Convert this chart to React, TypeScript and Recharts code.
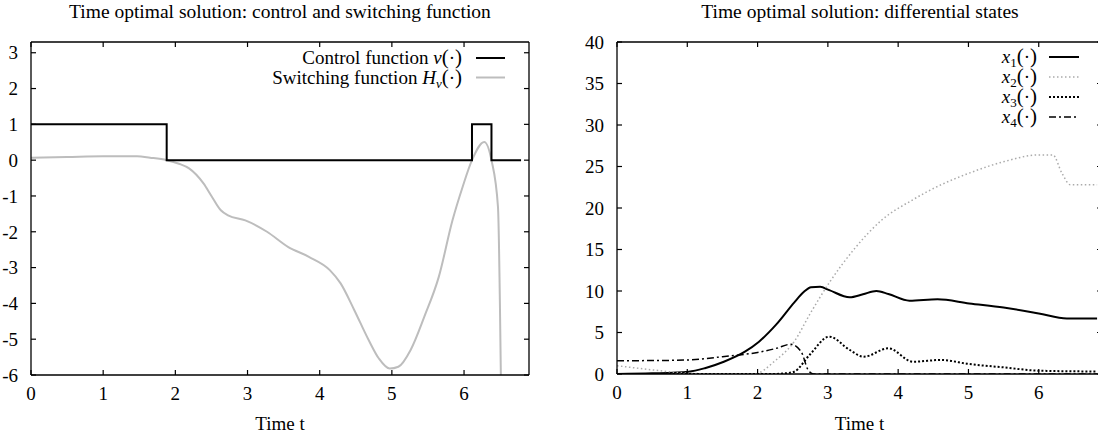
import React from "react";
import { LineChart, Line, XAxis, YAxis, Legend } from "recharts";

const FONT = '"Liberation Serif", "DejaVu Serif", serif';

// left panel: control v(t), switching function H_v(t)
const vTime = [0, 1.88, 6.11, 6.38, 6.79];
const vValue = [1, 0, 1, 0, 0];

const hTime = [
  0, 0.5, 1.0, 1.47, 1.65, 1.88, 2.05, 2.19, 2.39, 2.5, 2.63, 2.73, 2.97, 3.27,
  3.56, 3.85, 4.14, 4.29, 4.48, 4.68, 4.82, 4.97, 5.09, 5.26, 5.45, 5.65, 5.84,
  5.98, 6.11, 6.28, 6.38, 6.47, 6.51,
];
const hValue = [
  0.07, 0.09, 0.11, 0.11, 0.07, 0, -0.1, -0.23, -0.65, -1.0, -1.4, -1.54, -1.68,
  -2.0, -2.42, -2.7, -3.07, -3.44, -4.19, -5.03, -5.54, -5.82, -5.77, -5.3,
  -4.37, -3.26, -1.68, -0.75, 0, 0.51, 0, -1.3, -6.0,
];

// right panel: differential states x1..x4
const x1Time = [
  0, 0.5, 1.02, 1.25, 1.52, 1.82, 2.02, 2.27, 2.52, 2.66, 2.76, 2.89, 3.02,
  3.31, 3.5, 3.69, 3.86, 4.16, 4.56, 5.01, 5.5, 6.0, 6.4, 6.83,
];
const x1Value = [
  0, 0.08, 0.28, 0.7, 1.48, 2.69, 3.89, 6.0, 8.6, 9.9, 10.45, 10.5, 10.1, 9.24,
  9.6, 10.0, 9.64, 8.83, 9.0, 8.5, 8.0, 7.3, 6.7, 6.7,
];

const x2Time = [
  0, 0.5, 1.0, 1.5, 1.95, 2.25, 2.52, 2.75, 3.02, 3.37, 3.76, 4.21, 4.61, 5.01,
  5.51, 6.01, 6.2, 6.33, 6.45, 6.83,
];
const x2Value = [
  1.0, 0.5, 0.1, 0, 0, 1.6, 3.9, 7.3, 11.0, 15.0, 18.5, 21.0, 22.8, 24.2, 25.6,
  26.4, 26.4, 24.2, 22.8, 22.8,
];

const x3Time = [
  0, 2.2, 2.35, 2.52, 2.74, 3.02, 3.31, 3.51, 3.86, 4.21, 4.61, 5.01, 5.5, 6.0,
  6.83,
];
const x3Value = [
  0, 0, 0.05, 0.28, 2.3, 4.5, 2.9, 2.08, 3.1, 1.48, 1.69, 1.2, 0.8, 0.4, 0.3,
];

const x4Time = [0, 0.5, 1.0, 1.5, 2.0, 2.27, 2.47, 2.62, 2.72, 2.8, 6.83];
const x4Value = [1.6, 1.62, 1.69, 2.08, 2.6, 3.1, 3.58, 2.69, 0.48, 0, 0];

const timeTicks = [0, 1, 2, 3, 4, 5, 6];
const leftYTicks = [-6, -5, -4, -3, -2, -1, 0, 1, 2, 3];
const rightYTicks = [0, 5, 10, 15, 20, 25, 30, 35, 40];

const toRows = (t: number[], y: number[]) => t.map((tt, i) => ({ t: tt, y: y[i] }));

const styles = {
  v: { stroke: "#000", width: 2 },
  h: { stroke: "#bdbdbd", width: 2 },
  x1: { stroke: "#000", width: 2 },
  x2: { stroke: "#aaaaaa", width: 1.5, dash: "1.5 2.5" },
  x3: { stroke: "#000", width: 2, dash: "2 2" },
  x4: { stroke: "#000", width: 1.5, dash: "7 3 2 3" },
} as Record<string, { stroke: string; width: number; dash?: string }>;

type Part = { t: string; it?: boolean; sub?: boolean; big?: boolean; back?: boolean };

// one svg text per legend row; big parentheses like the TeX output
function KeyBox({ rows, width, height, textEnd, sx, sLen, rowH, top }: any) {
  return (
    <svg width={width} height={height} style={{ display: "block", overflow: "visible" }}>
      {rows.map((r: { s: any; parts: Part[] }, i: number) => {
        const y = top + i * rowH;
        return (
          <g key={i}>
            <text x={textEnd} y={y + 6} textAnchor="end" fontFamily={FONT} fontSize={19} fill="#000">
              {r.parts.map((p, j) => (
                <tspan
                  key={j}
                  fontStyle={p.it ? "italic" : "normal"}
                  fontSize={p.sub ? 13 : p.big ? 21 : 19}
                  dy={p.sub ? 4 : p.back ? -4 : 0}
                >
                  {p.t}
                </tspan>
              ))}
            </text>
            <line x1={sx} y1={y} x2={sx + sLen} y2={y} stroke={r.s.stroke} strokeWidth={r.s.width} strokeDasharray={r.s.dash} />
          </g>
        );
      })}
    </svg>
  );
}

const leftRows = [
  { s: styles.v, parts: [{ t: "Control function " }, { t: "v", it: true }, { t: "(", big: true }, { t: "·" }, { t: ")", big: true }] },
  { s: styles.h, parts: [{ t: "Switching function " }, { t: "H", it: true }, { t: "v", it: true, sub: true }, { t: "(", big: true, back: true }, { t: "·" }, { t: ")", big: true }] },
];

const rightRows = ["x1", "x2", "x3", "x4"].map((k, i) => ({
  s: styles[k],
  parts: [{ t: "x", it: true }, { t: String(i + 1), sub: true }, { t: "(", big: true, back: true }, { t: "·" }, { t: ")", big: true }],
}));

// gnuplot-style inward ticks: the tick renderer draws the mark and the label.
// bottom ticks also draw the mirrored mark on the top border (plotH above).
const TICK = 5;
const mkTick = (side: "bottom" | "left" | "right", gap: number, plotH = 0) => (p: any) => {
  const { x, y, payload } = p;
  const ln = { stroke: "#000", strokeWidth: 1.2 };
  if (side === "bottom") {
    const base = y - gap;
    return (
      <g>
        <line x1={x} x2={x} y1={base} y2={base - TICK} {...ln} />
        <line x1={x} x2={x} y1={base - plotH} y2={base - plotH + TICK} {...ln} />
        <text x={x} y={y} dy="0.71em" textAnchor="middle" fontFamily={FONT} fontSize={19} fill="#000">{payload.value}</text>
      </g>
    );
  }
  if (side === "left") {
    return (
      <g>
        <line x1={x + gap} x2={x + gap + TICK} y1={y} y2={y} {...ln} />
        <text x={x} y={y} dy="0.355em" textAnchor="end" fontFamily={FONT} fontSize={19} fill="#000">{payload.value}</text>
      </g>
    );
  }
  return <line x1={x} x2={x - TICK} y1={y} y2={y} {...ln} />;
};

const axisLine = { stroke: "#000", strokeWidth: 1.3 };

function Title({ text, center }: { text: string; center: number }) {
  return (
    <div
      style={{
        position: "absolute", top: 2, left: center - 300, width: 600, textAlign: "center",
        fontFamily: FONT, fontSize: 19.5, lineHeight: "19px", color: "#000", whiteSpace: "nowrap",
      }}
    >
      {text}
    </div>
  );
}

export default function App() {
  const axes = (yDomain: number[], yTicks: number[], yWidth: number, labelOffset: number, plotH: number) => [
    <XAxis
      key="xb" xAxisId={0} dataKey="t" type="number" domain={[0, 6.9]} ticks={timeTicks} allowDataOverflow
      height={30} tick={mkTick("bottom", 11.5, plotH)} tickSize={0} tickMargin={11.5} tickLine={false} axisLine={axisLine}
      label={{ value: "Time t", position: "bottom", offset: labelOffset, fill: "#000", fontSize: 19, fontFamily: FONT }}
    />,
    <XAxis
      key="xt" xAxisId="top" orientation="top" type="number" domain={[0, 6.9]} ticks={timeTicks} allowDataOverflow
      height={1} tick={false} tickSize={0} tickLine={false} axisLine={axisLine}
    />,
    <YAxis
      key="yl" yAxisId={0} type="number" domain={yDomain} ticks={yTicks} allowDataOverflow width={yWidth}
      tick={mkTick("left", 13)} tickSize={0} tickMargin={13} tickLine={false} axisLine={axisLine}
    />,
    <YAxis
      key="yr" yAxisId="right" orientation="right" type="number" domain={yDomain} ticks={yTicks} allowDataOverflow width={1}
      tick={mkTick("right", 0)} tickSize={0} tickMargin={0} tickLine={false} axisLine={axisLine}
    />,
  ];

  return (
    <div style={{ position: "absolute", left: 0, top: 0, width: 1098, height: 440, overflow: "hidden", background: "#fff", fontFamily: FONT }}>
      <Title text="Time optimal solution: control and switching function" center={280} />
      <Title text="Time optimal solution: differential states" center={860} />

      <div style={{ position: "absolute", left: 0, top: 0 }}>
        <LineChart width={549} height={440} margin={{ top: 41, right: 19, bottom: 35, left: 6 }}>
          {axes([-6, 3.3], leftYTicks, 25, 11.5, 333)}
          <Legend
            layout="horizontal" verticalAlign="middle" align="center"
            wrapperStyle={{ top: 40, left: 229, width: 290, height: 60 }}
            content={() => (
              <KeyBox rows={leftRows} width={290} height={60} textEnd={233} sx={247} sLen={29} rowH={19.5} top={18} />
            )}
          />
          <Line data={toRows(hTime, hValue)} dataKey="y" name="Switching function" type="monotone"
            stroke={styles.h.stroke} strokeWidth={styles.h.width} dot={false} isAnimationActive={false} />
          <Line data={toRows(vTime, vValue)} dataKey="y" name="Control function" type="stepAfter"
            stroke={styles.v.stroke} strokeWidth={styles.v.width} dot={false} isAnimationActive={false} />
        </LineChart>
      </div>

      <div style={{ position: "absolute", left: 549, top: 0 }}>
        <LineChart width={570} height={440} margin={{ top: 41, right: 16, bottom: 36, left: 38 }}>
          {axes([0, 40], rightYTicks, 30, 12.5, 332)}
          <Legend
            layout="horizontal" verticalAlign="middle" align="center"
            wrapperStyle={{ top: 40, left: 380, width: 170, height: 100 }}
            content={() => (
              <KeyBox rows={rightRows} width={170} height={100} textEnd={108} sx={120} sLen={30} rowH={20} top={17} />
            )}
          />
          {[
            ["x1", x1Time, x1Value],
            ["x2", x2Time, x2Value],
            ["x3", x3Time, x3Value],
            ["x4", x4Time, x4Value],
          ].map(([k, t, y]) => {
            const s = styles[k as string];
            return (
              <Line key={k as string} data={toRows(t as number[], y as number[])} dataKey="y" name={k as string}
                type="monotone" stroke={s.stroke} strokeWidth={s.width} strokeDasharray={s.dash}
                dot={false} isAnimationActive={false} />
            );
          })}
        </LineChart>
      </div>
    </div>
  );
}
